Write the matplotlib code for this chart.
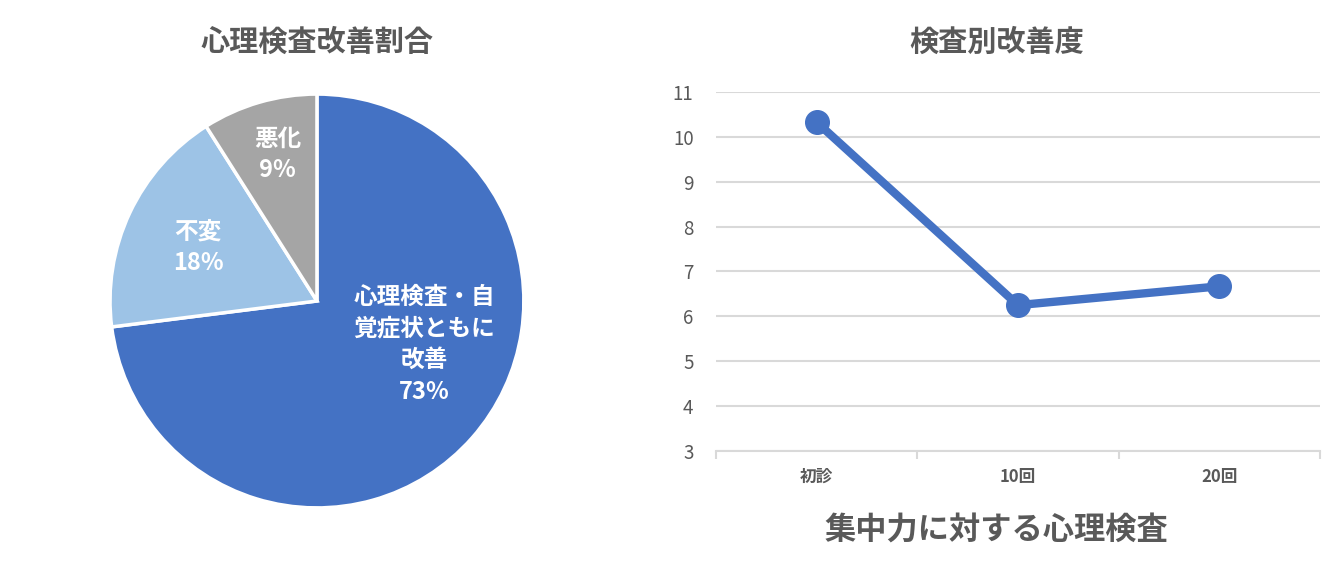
import numpy as np
import matplotlib.pyplot as plt

plt.rcParams['font.family'] = ['Noto Sans CJK JP', 'DejaVu Sans']

# pie data
pie_labels = ['心理検査・自\n覚症状ともに\n改善', '不変', '悪化']
pie_values = [73, 18, 9]
pie_colors = ['#4472C4', '#9DC3E6', '#A5A5A5']

# line data
categories = ['初診', '10回', '20回']
scores = [10.33, 6.25, 6.67]
yticks = [3, 4, 5, 6, 7, 8, 9, 10, 11]

fig = plt.figure(figsize=(13.43, 5.70), dpi=100)
fig.patch.set_facecolor('white')

gray = '#595959'

# ---- pie ----
ax1 = fig.add_axes([0.0804, 0.1053, 0.3112, 0.7333])
ax1.pie(pie_values, colors=pie_colors, startangle=90, counterclock=False,
        wedgeprops=dict(edgecolor='white', linewidth=2.5), radius=1)
ax1.set_xlim(-1.01, 1.01)
ax1.set_ylim(-1.01, 1.01)
ax1.set_aspect('equal')
label_pos = [(0.52, -0.21), (-0.575, 0.26), (-0.19, 0.71)]
for lab, v, (x, y) in zip(pie_labels, pie_values, label_pos):
    ax1.text(x, y, lab + '\n' + str(v) + '%', ha='center', va='center', color='white',
             fontsize=17, fontweight='bold', linespacing=1.4)
fig.text(317 / 1343, 1 - 42 / 570, '心理検査改善割合', ha='center', va='center',
         fontsize=21, fontweight='bold', color=gray)

# ---- line ----
ax2 = fig.add_axes([0.533, 0.2088, 0.450, 0.6298])
x = np.arange(len(categories))
ax2.plot(x, scores, color='#4472C4', linewidth=6, marker='o', markersize=17,
         solid_capstyle='round', zorder=3)
ax2.set_xlim(-0.5, len(categories) - 0.5)
ax2.set_ylim(3, 11)
ax2.set_yticks(yticks)
ax2.set_yticklabels([str(t) for t in yticks], fontsize=13.5, color=gray)
ax2.set_xticks(x)
ax2.set_xticklabels(categories, fontsize=12, color=gray, fontweight='bold')
ax2.tick_params(axis='y', length=0, pad=16)
ax2.tick_params(axis='x', which='major', length=0, pad=12)
ax2.set_xticks(np.arange(-0.5, len(categories)), minor=True)
ax2.tick_params(axis='x', which='minor', length=6, color='#D9D9D9', width=1.5)
ax2.grid(axis='y', color='#D9D9D9', linewidth=1.5)
ax2.set_axisbelow(True)
for s in ['top', 'right', 'left']:
    ax2.spines[s].set_visible(False)
ax2.spines['bottom'].set_color('#D9D9D9')
ax2.spines['bottom'].set_linewidth(1.5)
ax2.set_xlabel('集中力に対する心理検査', fontsize=22.5, fontweight='bold', color=gray)
ax2.xaxis.set_label_coords(0.465, -0.178)
fig.text(997 / 1343, 1 - 42 / 570, '検査別改善度', ha='center', va='center',
         fontsize=21, fontweight='bold', color=gray)

fig.savefig('out.png', dpi=100, facecolor='white')
